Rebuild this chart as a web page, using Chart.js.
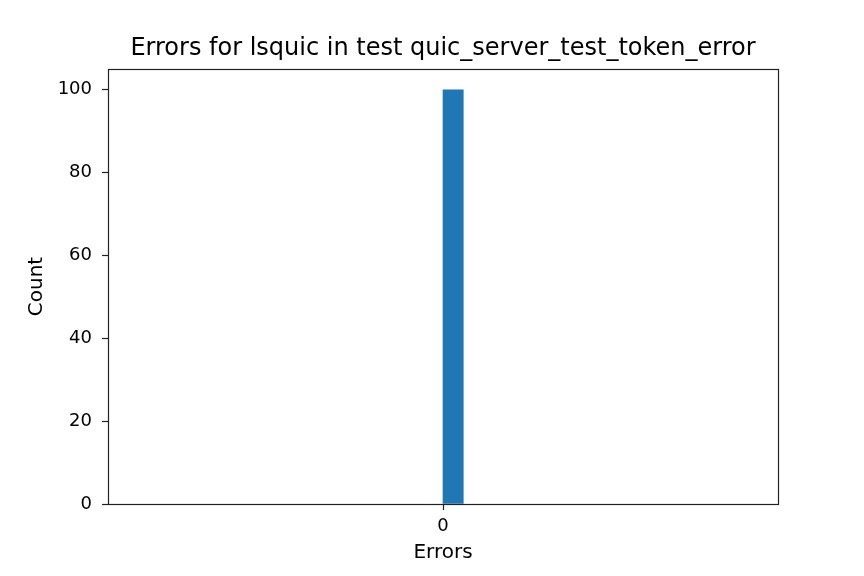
<!DOCTYPE html>
<html>
<head>
<meta charset="utf-8">
<script src="https://cdn.jsdelivr.net/npm/chart.js@4/dist/chart.umd.min.js"></script>
<style>
  html, body { margin: 0; padding: 0; background: #fff; }
  #wrap { width: 864px; height: 576px; }
</style>
</head>
<body>
<div id="wrap"><canvas id="chart" width="864" height="576"></canvas></div>
<script>
// histogram data (one bin with all 100 samples at 0)
const binEdges = [0, 0.0333];
const counts = [100];
const xTicks = [0];
const yTicks = [0, 20, 40, 60, 80, 100];

const FONT = 'DejaVu Sans';

// box around the plot area like matplotlib
const frameBox = {
  id: 'frameBox',
  afterDraw(chart) {
    const a = chart.chartArea;
    const c = chart.ctx;
    c.save();
    c.strokeStyle = '#222';
    c.lineWidth = 1.2;
    c.strokeRect(Math.round(a.left) + 0.5, Math.round(a.top) + 0.5,
      Math.round(a.right - a.left), Math.round(a.bottom - a.top));
    c.restore();
  }
};

const barData = counts.map((v, i) => ({ x: (binEdges[i] + binEdges[i + 1]) / 2, y: v }));

new Chart(document.getElementById('chart'), {
  type: 'bar',
  data: {
    datasets: [{
      data: barData,
      backgroundColor: '#1f77b4',
      borderWidth: 0,
      grouped: false,
      barThickness: ctx => {
        const s = ctx.chart.scales.x;
        return s.getPixelForValue(binEdges[1]) - s.getPixelForValue(binEdges[0]);
      }
    }]
  },
  options: {
    responsive: false,
    animation: false,
    layout: { padding: { left: 0, right: 86, top: 0, bottom: 0 } },
    plugins: {
      legend: { display: false },
      tooltip: { enabled: false },
      title: {
        display: true,
        text: 'Errors for lsquic in test quic_server_test_token_error',
        fullSize: false,
        color: '#000',
        font: { family: FONT, size: 24, weight: 'normal', lineHeight: 1.2 },
        padding: { top: 34.6, bottom: 5.6 }
      }
    },
    scales: {
      x: {
        type: 'linear',
        min: -0.55,
        max: 0.55,
        offset: false,
        afterBuildTicks: s => { s.ticks = xTicks.map(v => ({ value: v })); },
        afterFit: s => { s.height = 72; },
        grid: { display: true, offset: false, drawOnChartArea: false, color: '#222', tickLength: 6, tickWidth: 1.2 },
        border: { display: false },
        ticks: { color: '#000', padding: 6, maxRotation: 0, font: { family: FONT, size: 18 } },
        title: {
          display: true, text: 'Errors', color: '#000',
          font: { family: FONT, size: 20, lineHeight: 1.2 },
          padding: { top: 0, bottom: 11 }
        }
      },
      y: {
        min: 0,
        max: 105,
        afterBuildTicks: s => { s.ticks = yTicks.map(v => ({ value: v })); },
        afterFit: s => { s.width = 108; },
        grid: { display: true, drawOnChartArea: false, color: '#222', tickLength: 6, tickWidth: 1.2 },
        border: { display: false },
        ticks: { color: '#000', padding: 10, font: { family: FONT, size: 18 } },
        title: {
          display: true, text: 'Count', color: '#000',
          font: { family: FONT, size: 20, lineHeight: 1.2 },
          padding: { top: 25, bottom: 0 }
        }
      }
    }
  },
  plugins: [frameBox]
});
</script>
</body>
</html>
